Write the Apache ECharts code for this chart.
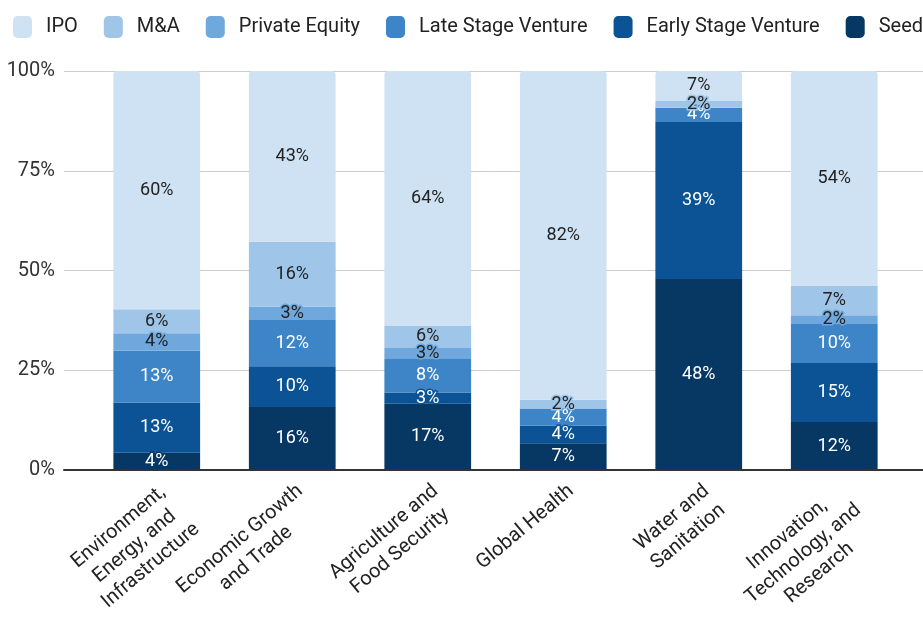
<!DOCTYPE html>
<html>
<head>
<meta charset="utf-8">
<title>Funding stage by sector</title>
<script src="https://cdn.jsdelivr.net/npm/echarts@6/dist/echarts.min.js"></script>
<style>
  html, body { margin: 0; padding: 0; background: #fff; }
  #chart { width: 923px; height: 620px; }
</style>
</head>
<body>
<div id="chart"></div>
<script>
const categories = [
    'Environment,\nEnergy, and\nInfrastructure',
    'Economic Growth\nand Trade',
    'Agriculture and\nFood Security',
    'Global Health',
    'Water and\nSanitation',
    'Innovation,\nTechnology, and\nResearch'
];

// shares in percent, bottom of the stack first
const seed = [4.3, 15.8, 16.6, 6.7, 47.9, 12.0];
const earlyStage = [12.6, 10.2, 2.8, 4.4, 39.3, 14.8];
const lateStage = [13.0, 11.6, 8.4, 4.3, 3.6, 9.8];
const privateEquity = [4.4, 3.3, 2.8, 0, 0, 2.2];
const mna = [6.0, 16.3, 5.6, 2.2, 1.8, 7.3];
const ipo = [59.7, 42.8, 63.8, 82.4, 7.4, 53.9];

const yTicks = [0, 25, 50, 75, 100];
const legendOrder = ['IPO', 'M&A', 'Private Equity', 'Late Stage Venture', 'Early Stage Venture', 'Seed'];

const stack = [
    { name: 'Seed', data: seed, color: '#073763', text: '#fff' },
    { name: 'Early Stage Venture', data: earlyStage, color: '#0b5394', text: '#fff' },
    { name: 'Late Stage Venture', data: lateStage, color: '#3d85c6', text: '#fff' },
    { name: 'Private Equity', data: privateEquity, color: '#6fa8dc', text: '#222' },
    { name: 'M&A', data: mna, color: '#9fc5e8', text: '#222' },
    { name: 'IPO', data: ipo, color: '#cfe2f3', text: '#222' }
];

const FONT = 'Roboto, "Noto Sans", sans-serif';
const chart = echarts.init(document.getElementById('chart'));

const series = stack.map((s, i) => ({
    name: s.name,
    type: 'bar',
    stack: 'total',
    xAxisIndex: 0,
    yAxisIndex: 0,
    barWidth: '64%',
    data: s.data,
    itemStyle: {
        color: s.color,
        borderRadius: i === stack.length - 1 ? [4, 4, 0, 0] : 0
    },
    label: {
        show: true,
        position: 'inside',
        fontFamily: FONT,
        fontSize: 18,
        color: s.text,
        textBorderColor: s.color,
        textBorderWidth: 3,
        formatter: p => p.value > 0 ? Math.round(p.value) + '%' : ''
    },
    emphasis: { disabled: true }
}));

chart.setOption({
    animation: false,
    color: stack.map(s => s.color),
    legend: {
        data: legendOrder,
        left: 8,
        top: 11,
        width: 2000,
        itemWidth: 19,
        itemHeight: 22,
        itemGap: 26,
        icon: 'roundRect',
        textStyle: { fontFamily: FONT, fontSize: 20, color: '#222', padding: [0, 0, 0, 9] }
    },
    grid: [
        { left: 89, right: 21, top: 71, bottom: 150, outerBoundsMode: 'none', containLabel: false },
        { left: 64, right: 0, top: 71, bottom: 150, outerBoundsMode: 'none', containLabel: false }
    ],
    xAxis: [
        {
            type: 'category',
            gridIndex: 0,
            data: categories,
            axisLine: { show: false },
            axisTick: { show: false },
            axisLabel: {
                interval: 0,
                rotate: 40,
                margin: 9,
                verticalAlign: 'top',
                fontFamily: FONT,
                fontSize: 20,
                color: '#222',
                formatter: v => v.split('\n').map(l => '{c|' + l + '}').join('\n'),
                rich: {
                    c: { align: 'center', fontFamily: FONT, fontSize: 20, color: '#222', lineHeight: 25 }
                }
            }
        },
        {
            type: 'value',
            gridIndex: 1,
            min: 0,
            max: 1,
            z: 10,
            axisLine: { show: true, onZero: false, lineStyle: { color: '#333', width: 2 } },
            axisTick: { show: false },
            axisLabel: { show: false },
            splitLine: { show: false }
        }
    ],
    yAxis: [
        {
            type: 'value',
            gridIndex: 0,
            min: 0,
            max: 100,
            interval: 25,
            axisLine: { show: false },
            axisTick: { show: false },
            axisLabel: { show: false },
            splitLine: { show: false }
        },
        {
            type: 'value',
            gridIndex: 1,
            min: yTicks[0],
            max: yTicks[yTicks.length - 1],
            interval: 25,
            axisLine: { show: false },
            axisTick: { show: false },
            axisLabel: {
                margin: 9,
                fontFamily: FONT,
                fontSize: 20,
                color: '#333',
                formatter: v => v + '%'
            },
            splitLine: { show: true, lineStyle: { color: '#cccccc', width: 1 } }
        }
    ],
    series: series
});
</script>
</body>
</html>
